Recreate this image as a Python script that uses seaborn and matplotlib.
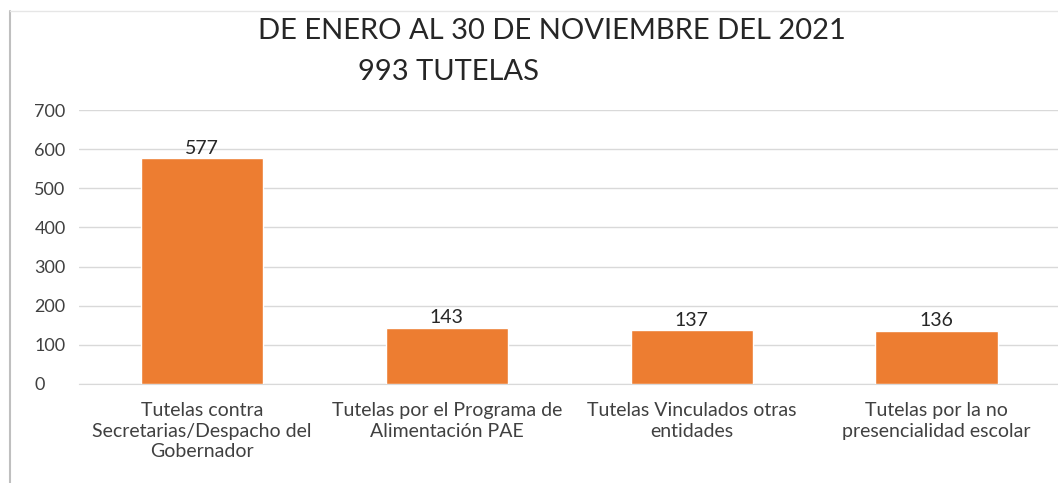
import seaborn as sns
import matplotlib.pyplot as plt
import pandas as pd
from matplotlib.lines import Line2D

categories = [
    "Tutelas contra\nSecretarias/Despacho del\nGobernador",
    "Tutelas por el Programa de\nAlimentación PAE",
    "Tutelas Vinculados otras\nentidades",
    "Tutelas por la no\npresencialidad escolar",
]
values = [577, 143, 137, 136]
y_ticks = [0, 100, 200, 300, 400, 500, 600, 700]

df = pd.DataFrame({"categoria": categories, "tutelas": values})

sns.set_style("white")
plt.rcParams["font.family"] = ["Lato", "DejaVu Sans"]

fig = plt.figure(figsize=(10.58, 4.83), dpi=100)
ax = fig.add_axes([0.0751, 0.205, 0.926, 0.567])

sns.barplot(data=df, x="categoria", y="tutelas", color="#ED7D31", width=0.5,
            saturation=1, ax=ax, zorder=3)

ax.set_ylim(0, 700)
ax.set_xlim(-0.5, 3.5)
ax.set_yticks(y_ticks)
ax.yaxis.grid(True, color="#d9d9d9", linewidth=1, zorder=0)
for s in ["top", "right", "left"]:
    ax.spines[s].set_visible(False)
ax.spines["bottom"].set_color("#d9d9d9")
ax.tick_params(axis="y", length=0, pad=32.5, labelsize=13, labelcolor="#404040")
ax.tick_params(axis="x", length=0, pad=13, labelsize=14, labelcolor="#404040")
ax.set_xlabel("")
ax.set_ylabel("")
for lbl in ax.get_yticklabels():
    lbl.set_horizontalalignment("left")
for lbl in ax.get_xticklabels():
    lbl.set_linespacing(1.25)

for i, v in enumerate(values):
    ax.text(i, v + 4, str(v), ha="center", va="bottom", fontsize=14, color="#262626")

fig.text(0.522, 0.935, "DE ENERO AL 30 DE NOVIEMBRE DEL 2021", ha="center", va="center",
         fontsize=21, color="#262626")
fig.text(0.424, 0.85, "993 TUTELAS", ha="center", va="center",
         fontsize=21, color="#262626")

# chart frame edges visible in the reference
fig.add_artist(Line2D([0.0095, 0.0095], [0, 0.978], color="#bfbfbf", linewidth=1.5,
                      transform=fig.transFigure))
fig.add_artist(Line2D([0.0095, 1.0], [0.978, 0.978], color="#e6e6e6", linewidth=1,
                      transform=fig.transFigure))

fig.savefig("out.png", dpi=100, facecolor="white")
